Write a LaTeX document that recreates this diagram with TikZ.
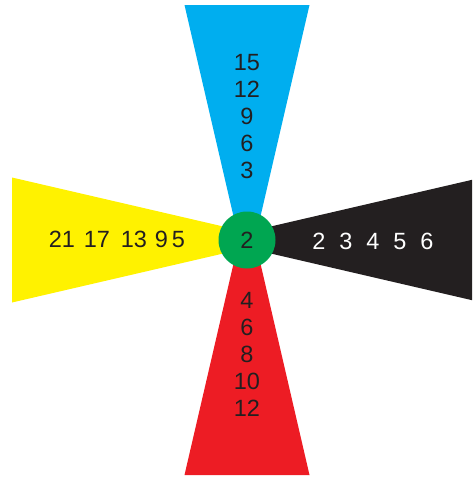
\documentclass[tikz,border=0pt]{standalone}
\usepackage{fontspec}
\setmainfont{Liberation Sans}
\usetikzlibrary{positioning,calc}
\definecolor{wblue}{HTML}{00AEEF}
\definecolor{wyellow}{HTML}{FFF200}
\definecolor{wred}{HTML}{ED1C24}
\definecolor{wgreen}{HTML}{00A651}
\definecolor{wblack}{HTML}{231F20}
\tikzset{num/.style={inner sep=0pt,text=wblack,text height=16.8pt,text depth=0pt,font=\fontsize{23.5}{28}\selectfont}}
\tikzset{wnum/.style={num,text=white}}
\tikzset{hub/.style={circle,fill=wgreen,minimum size=57pt,inner sep=0pt}}

\begin{document}
\begin{tikzpicture}[x=1pt,y=-1pt]
	\useasboundingbox (0,0) rectangle (472,477);
	\clip (0,0) rectangle (472,477);
		\coordinate (c) at (247,240);
		% the four wedges
		\fill[wblue] ($(c)+(-8,0)$) -- (184.5,5) -- (309.5,5) -- ($(c)+(8,0)$) -- cycle;
		\fill[wred] ($(c)+(-8,0)$) -- (184.5,475) -- (309.5,475) -- ($(c)+(8,0)$) -- cycle;
		\fill[wyellow] ($(c)+(0,-8)$) -- (12,177.5) -- (12,302.5) -- ($(c)+(0,8)$) -- cycle;
		\fill[wblack] ($(c)+(0,-8)$) -- (482,177.5) -- (482,302.5) -- ($(c)+(0,8)$) -- cycle;
		\node[hub] (h) at (c) {};
		\node[num] (h2) at (c) {2};

		\foreach \n [count=\i] in {15,12,9,6,3}
			\node[num] (u\i) at (247,{62+27*(\i-1)}) {\n};
		\foreach \n [count=\i] in {4,6,8,10,12}
			\node[num] (d\i) at (247,{300+27*(\i-1)}) {\n};
		\foreach \n [count=\i] in {2,3,4,5,6}
			\node[wnum] (r\i) at ({319+27*(\i-1)},241) {\n};
		\foreach \x/\n [count=\i] in {62/21,97/17,134/13,161.5/9,178.5/5}
			\node[num] (l\i) at (\x,239) {\n};
	\end{tikzpicture}
\end{document}
